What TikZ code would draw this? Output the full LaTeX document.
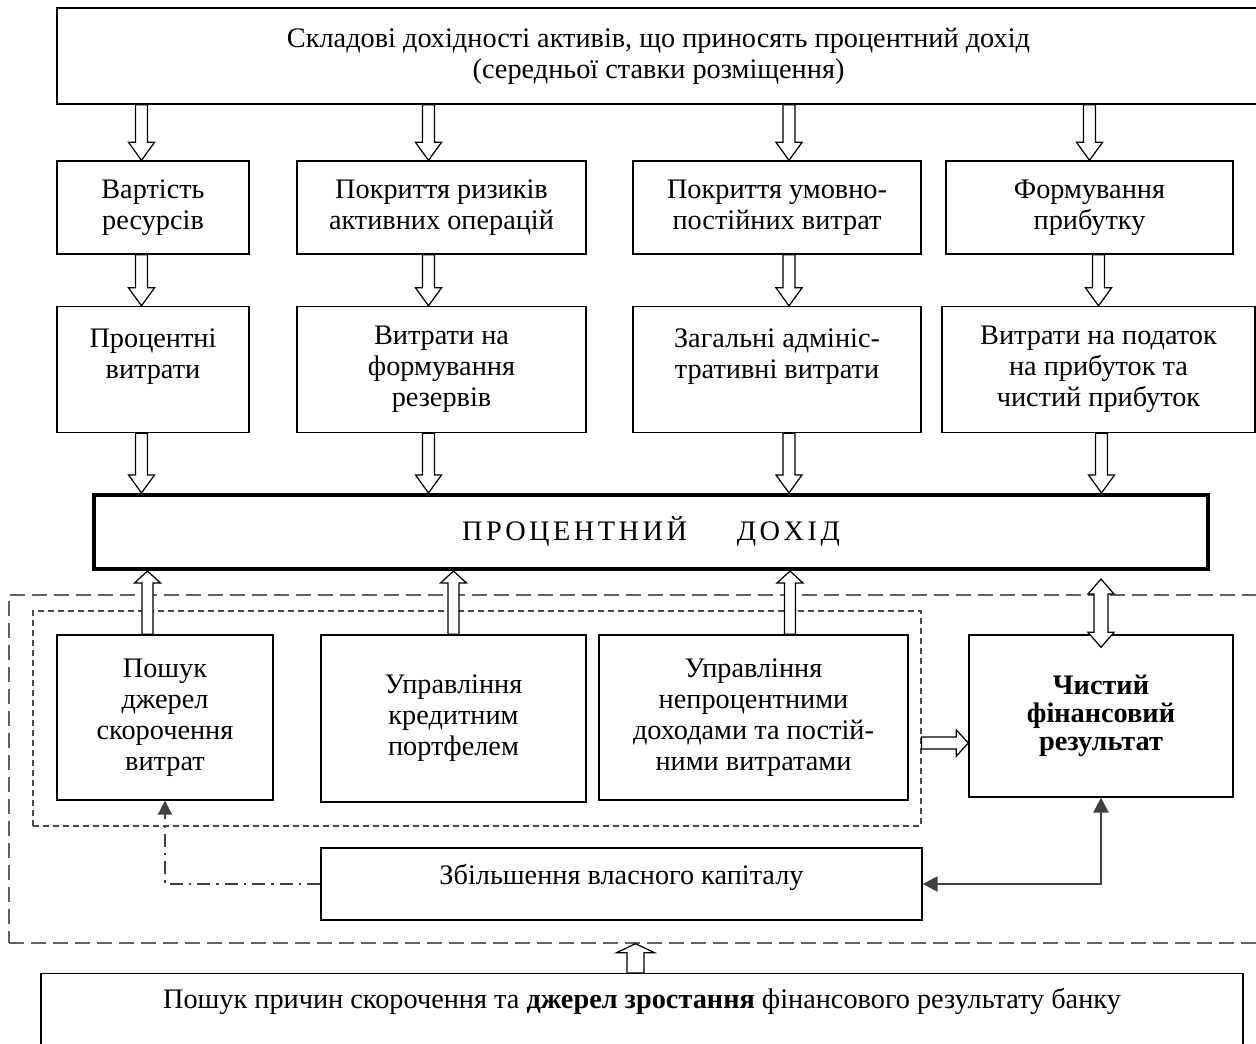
\documentclass[tikz,border=0pt]{standalone}
\usepackage{fontspec}
\setmainfont{Liberation Serif}
\usepackage{tikz}
\usetikzlibrary{shapes,arrows,arrows.meta,calc,positioning}
\tikzstyle{box}=[rectangle, draw, line width=0.75pt, align=center, font=\fontsize{16.1}{17.6}\selectfont]
\tikzstyle{box2}=[box, font=\fontsize{16.1}{16}\selectfont\bfseries]
\tikzstyle{mainbox}=[rectangle, draw, line width=2.3pt, font=\fontsize{16.1}{17.6}\selectfont]
\tikzstyle{frame1}=[rectangle, draw=black!62, line width=0.8pt, dash pattern=on 0.3cm off 0.14cm]
\tikzstyle{frame2}=[rectangle, draw=black!72, line width=0.65pt, dash pattern=on 0.12cm off 0.08cm]
\tikzstyle{arrow3}=[draw=black!75, line width=1.1pt, dash pattern=on 0.26cm off 0.12cm on 0.05cm off 0.12cm, -{Triangle[length=0.28cm,width=0.28cm]}]
\tikzstyle{arrow4}=[draw=black!75, line width=1.5pt, {Triangle[length=0.3cm,width=0.3cm]}-{Triangle[length=0.3cm,width=0.3cm]}]
\tikzset{
  arrow1/.style n args={3}{draw, fill=white, line width=0.7pt, to path={
    ($(\tikztostart)!#1!90:(\tikztotarget)$)
    -- ($($(\tikztotarget)!#3!(\tikztostart)$)!#1!90:(\tikztotarget)$)
    -- ($($(\tikztotarget)!#3!(\tikztostart)$)!#2!90:(\tikztotarget)$)
    -- (\tikztotarget)
    -- ($($(\tikztotarget)!#3!(\tikztostart)$)!#2!-90:(\tikztotarget)$)
    -- ($($(\tikztotarget)!#3!(\tikztostart)$)!#1!-90:(\tikztotarget)$)
    -- ($(\tikztostart)!#1!-90:(\tikztotarget)$) -- cycle}},
  arrow2/.style n args={3}{draw, fill=white, line width=0.7pt, to path={
    (\tikztostart)
    -- ($($(\tikztostart)!#3!(\tikztotarget)$)!#2!90:(\tikztotarget)$)
    -- ($($(\tikztostart)!#3!(\tikztotarget)$)!#1!90:(\tikztotarget)$)
    -- ($($(\tikztotarget)!#3!(\tikztostart)$)!#1!90:(\tikztotarget)$)
    -- ($($(\tikztotarget)!#3!(\tikztostart)$)!#2!90:(\tikztotarget)$)
    -- (\tikztotarget)
    -- ($($(\tikztotarget)!#3!(\tikztostart)$)!#2!-90:(\tikztotarget)$)
    -- ($($(\tikztotarget)!#3!(\tikztostart)$)!#1!-90:(\tikztotarget)$)
    -- ($($(\tikztostart)!#3!(\tikztotarget)$)!#1!-90:(\tikztotarget)$)
    -- ($($(\tikztostart)!#3!(\tikztotarget)$)!#2!-90:(\tikztotarget)$)
    -- cycle}}
}
\tikzstyle{down}=[arrow1={0.12cm}{0.26cm}{0.36cm}]
\tikzstyle{up}=[arrow1={0.11cm}{0.26cm}{0.24cm}]

\begin{document}
\begin{tikzpicture}
\useasboundingbox (0,0) rectangle (25.12,-20.88);
\clip (0,0) rectangle (25.12,-20.88);
%Frames
\node[frame1, minimum width=25.06cm, minimum height=6.96cm] (outer) at (12.71,-15.38){};
\node[frame2, minimum width=17.76cm, minimum height=4.30cm] (inner) at (9.54,-14.37){};

%Top
\node[box, minimum width=24.06cm, minimum height=1.92cm] (top) at (13.17,-1.12){Складові дохідності активів, що приносять процентний дохід\\(середньої ставки розміщення)};
%Row One
\node[box, minimum width=3.84cm, minimum height=1.86cm] (r1bx1) at (3.06,-4.15){Вартість\\ресурсів};
\node[box, minimum width=5.78cm, minimum height=1.86cm] (r1bx2) at (8.83,-4.15){Покриття ризиків\\активних операцій};
\node[box, minimum width=5.76cm, minimum height=1.86cm] (r1bx3) at (15.54,-4.15){Покриття умовно-\\постійних витрат};
\node[box, minimum width=5.74cm, minimum height=1.86cm] (r1bx4) at (21.79,-4.15){Формування\\прибутку};
%Row Two
\node[box, minimum width=3.84cm, minimum height=2.52cm] (r2bx1) at (3.06,-7.39){Процентні\\витрати\\~};
\node[box, minimum width=5.78cm, minimum height=2.52cm] (r2bx2) at (8.83,-7.39){Витрати на\\формування\\резервів};
\node[box, minimum width=5.76cm, minimum height=2.52cm] (r2bx3) at (15.54,-7.39){Загальні адмініс-\\тративні витрати\\~};
\node[box, minimum width=6.26cm, minimum height=2.52cm] (r2bx4) at (21.97,-7.39){Витрати на податок\\на прибуток та\\чистий прибуток};
%Main
\node[mainbox, minimum width=22.28cm, minimum height=1.48cm] (main) at (13.02,-10.64){П\hspace{0.07cm}Р\hspace{0.07cm}О\hspace{0.07cm}Ц\hspace{0.07cm}Е\hspace{0.07cm}Н\hspace{0.07cm}Т\hspace{0.07cm}Н\hspace{0.07cm}И\hspace{0.07cm}Й\hspace{1cm}Д\hspace{0.07cm}О\hspace{0.07cm}Х\hspace{0.07cm}І\hspace{0.07cm}Д};
%Row Three
\node[box, minimum width=4.32cm, minimum height=3.30cm] (r3bx1) at (3.30,-14.35){Пошук\\джерел\\скорочення\\витрат};
\node[box, minimum width=5.30cm, minimum height=3.34cm] (r3bx2) at (9.07,-14.37){Управління\\кредитним\\портфелем};
\node[box, minimum width=6.18cm, minimum height=3.30cm] (r3bx3) at (15.07,-14.35){Управління\\непроцентними\\доходами та постій-\\ними витратами};
\node[box2, minimum width=5.28cm, minimum height=3.24cm] (fin) at (22.02,-14.32){Чистий\\фінансовий\\результат};
\node[box, minimum width=12.02cm, minimum height=1.44cm, text depth=0.4cm] (zbil) at (12.43,-17.68){Збільшення власного капіталу};
%Bottom
\node[box, anchor=north, minimum width=24.04cm, text height=0.5cm, text depth=1cm, inner ysep=0.2cm] (bot) at (12.84,-19.46){Пошук причин скорочення та \textbf{джерел зростання} фінансового результату банку};

%Arrows
\draw[down] ([xshift=-0.23cm]r1bx1.north |- top.south) to ([xshift=-0.23cm]r1bx1.north);
\draw[down] ([xshift=-0.26cm]r1bx2.north |- top.south) to ([xshift=-0.26cm]r1bx2.north);
\draw[down] ([xshift=0.24cm]r1bx3.north |- top.south) to ([xshift=0.24cm]r1bx3.north);
\draw[down] (r1bx4.north |- top.south) to (r1bx4.north);

\draw[down] ([xshift=-0.23cm]r1bx1.south) to ([xshift=-0.23cm]r2bx1.north);
\draw[down] ([xshift=-0.26cm]r1bx2.south) to ([xshift=-0.26cm]r2bx2.north);
\draw[down] ([xshift=0.24cm]r1bx3.south) to ([xshift=0.24cm]r2bx3.north);
\draw[down] (r2bx4.north |- r1bx4.south) to (r2bx4.north);

\draw[down] ([xshift=-0.23cm]r2bx1.south) to ([xshift=-0.23cm]r2bx1.south |- main.north);
\draw[down] ([xshift=-0.26cm]r2bx2.south) to ([xshift=-0.26cm]r2bx2.south |- main.north);
\draw[down] ([xshift=0.24cm]r2bx3.south) to ([xshift=0.24cm]r2bx3.south |- main.north);
\draw[down] ([xshift=0.06cm]r2bx4.south) to ([xshift=0.06cm]r2bx4.south |- main.north);

\draw[up] ([xshift=-0.35cm]r3bx1.north) to ([xshift=-0.35cm]r3bx1.north |- main.south);
\draw[up] (r3bx2.north) to (r3bx2.north |- main.south);
\draw[up] ([xshift=0.73cm]r3bx3.north) to ([xshift=0.73cm]r3bx3.north |- main.south);
\draw[arrow2={0.14cm}{0.26cm}{0.3cm}] ([yshift=-0.16cm]fin.north |- main.south) to ([yshift=-0.26cm]fin.north);

\draw[arrow1={0.12cm}{0.26cm}{0.24cm}] ([yshift=-0.49cm]inner.east) to ([yshift=-0.49cm]inner.east -| fin.west);
\draw[arrow1={0.17cm}{0.38cm}{0.18cm}] (bot.north -| outer.south) to (outer.south);

\draw[arrow3] (zbil.west) -| (r3bx1.south);
\draw[arrow4] (zbil.east) -| (fin.south);
\end{tikzpicture}
\end{document}
